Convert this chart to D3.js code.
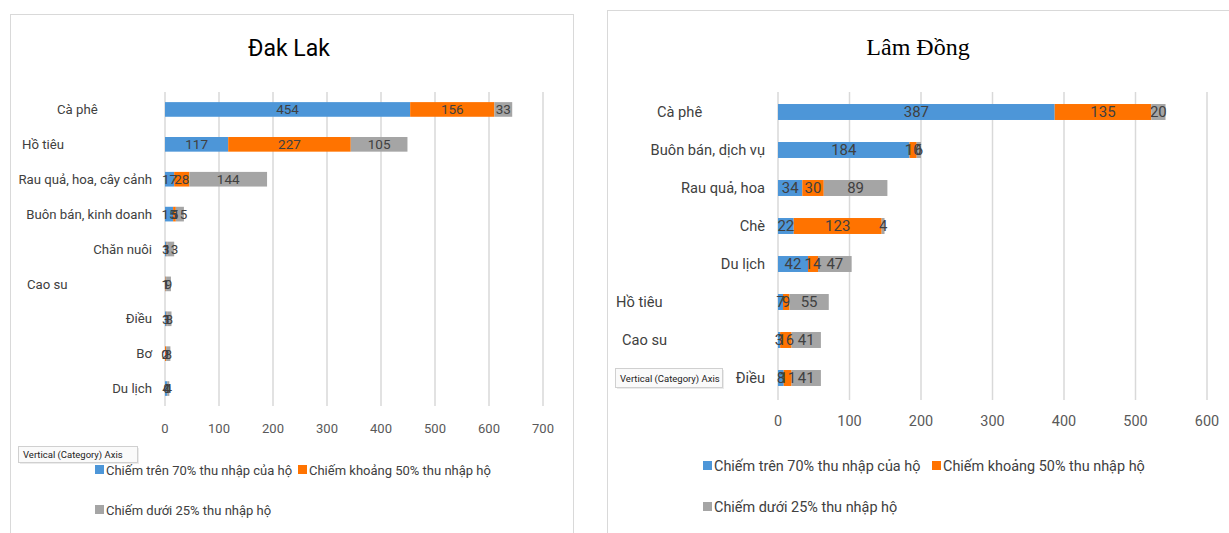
<!DOCTYPE html>
<html>
<head>
<meta charset="utf-8">
<script src="https://cdn.jsdelivr.net/npm/d3@7"></script>
<style>
  body { margin: 0; background: #fff; }
  svg { display: block; font-family: "Roboto", sans-serif; }
</style>
</head>
<body>
<svg id="chart" width="1229" height="533"></svg>
<script>
/* Series names and colours (shared by both charts) */
var seriesNames = ['Chiếm trên 70% thu nhập của hộ', 'Chiếm khoảng 50% thu nhập hộ', 'Chiếm dưới 25% thu nhập hộ']
var seriesColors = ['#4d96d8', '#ff7300', '#a5a5a5']

/* Đak Lak */
var dakLakCategories = ['Cà phê', 'Hồ tiêu', 'Rau quả, hoa, cây cảnh', 'Buôn bán, kinh doanh', 'Chăn nuôi', 'Cao su', 'Điều', 'Bơ', 'Du lịch']
var dakLakOver70 = [454, 117, 17, 15, 3, 1, 3, 0, 4]
var dakLakAbout50 = [156, 227, 28, 5, 1, 1, 1, 2, 0]
var dakLakUnder25 = [33, 105, 144, 15, 13, 9, 8, 8, 4]
var dakLakTicks = [0, 100, 200, 300, 400, 500, 600, 700]

/* Lâm Đồng */
var lamDongCategories = ['Cà phê', 'Buôn bán, dịch vụ', 'Rau quả, hoa', 'Chè', 'Du lịch', 'Hồ tiêu', 'Cao su', 'Điều']
var lamDongOver70 = [387, 184, 34, 22, 42, 7, 3, 8]
var lamDongAbout50 = [135, 10, 30, 123, 14, 9, 16, 11]
var lamDongUnder25 = [20, 6, 89, 4, 47, 55, 41, 41]
var lamDongTicks = [0, 100, 200, 300, 400, 500, 600]

var svg = d3.select('#chart')

/* Panel frames */
svg.append('rect').attr('x', 10.5).attr('y', 14.5).attr('width', 563).attr('height', 530)
	.attr('fill', 'none').attr('stroke', '#d9d9d9')
svg.append('rect').attr('x', 607.5).attr('y', 10.5).attr('width', 640).attr('height', 530)
	.attr('fill', 'none').attr('stroke', '#d9d9d9')

/**
 * Draws one stacked horizontal bar chart with its title, axis and legend
 */
function drawChart(opt) {
	var g = svg.append('g')
	var k = opt.fontScale
	var rows = opt.categories.map(function(name, i) {
		return { name: name, values: [opt.series[0][i], opt.series[1][i], opt.series[2][i]] }
	})

	var x = d3.scaleLinear().domain([0, opt.ticks[opt.ticks.length - 1]]).range(opt.xRange)
	var y = d3.scaleBand().domain(opt.categories).range(opt.yRange).paddingInner(0.58).paddingOuter(0.29)

	/* Title */
	g.append('text').attr('x', opt.titleX).attr('y', opt.titleY)
		.attr('text-anchor', 'middle').style('font-family', opt.titleFont).style('font-size', opt.titleSize + 'px')
		.attr('fill', '#000').text(opt.title)

	/* Vertical gridlines */
	g.selectAll('line.grid').data(opt.ticks).enter().append('line')
		.attr('x1', function(d) { return x(d) }).attr('x2', function(d) { return x(d) })
		.attr('y1', opt.gridTop).attr('y2', opt.gridBottom)
		.attr('stroke', '#d9d9d9').attr('stroke-width', 1.5)

	/* Tick labels */
	g.selectAll('text.tick').data(opt.ticks).enter().append('text')
		.attr('x', function(d) { return x(d) }).attr('y', opt.tickY)
		.attr('text-anchor', 'middle').style('font-size', (13 * k) + 'px').attr('fill', '#595959')
		.text(function(d) { return d })

	/* Category labels; some of them sit further left in the original */
	g.selectAll('text.cat').data(rows).enter().append('text')
		.attr('x', function(d) { return opt.offAligned[d.name] !== undefined ? opt.offAligned[d.name] : x(0) - 13 })
		.attr('y', function(d) { return y(d.name) + y.bandwidth() / 2 })
		.attr('dy', '0.35em')
		.attr('text-anchor', function(d) { return opt.offAligned[d.name] !== undefined ? 'start' : 'end' })
		.style('font-size', (13.2 * k) + 'px').attr('fill', '#404040')
		.text(function(d) { return d.name })

	/* Stacked segments */
	var segs = []
	rows.forEach(function(row) {
		var start = 0
		row.values.forEach(function(v, s) {
			segs.push({ name: row.name, s: s, v: v, x0: start, x1: start + v })
			start += v
		})
	})

	g.selectAll('rect.bar').data(segs).enter().append('rect')
		.attr('x', function(d) { return x(d.x0) })
		.attr('y', function(d) { return y(d.name) })
		.attr('width', function(d) { return x(d.x1) - x(d.x0) })
		.attr('height', y.bandwidth())
		.attr('fill', function(d) { return seriesColors[d.s] })

	g.selectAll('text.val').data(segs).enter().append('text')
		.attr('x', function(d) { return (x(d.x0) + x(d.x1)) / 2 })
		.attr('y', function(d) { return y(d.name) + y.bandwidth() / 2 })
		.attr('dy', '0.36em').attr('text-anchor', 'middle')
		.style('font-size', (13.5 * k) + 'px').attr('fill', '#404040')
		.text(function(d) { return d.v })

	/* Legend */
	var legend = g.selectAll('g.leg').data(seriesNames).enter().append('g')
		.attr('transform', function(d, i) { return 'translate(' + opt.legendPos[i][0] + ',' + opt.legendPos[i][1] + ')' })
	legend.append('rect').attr('x', 0).attr('y', -5).attr('width', 9).attr('height', 9)
		.attr('fill', function(d, i) { return seriesColors[i] })
	legend.append('text').attr('x', 11).attr('y', 0).attr('dy', '0.35em')
		.style('font-size', (13 * k) + 'px').attr('fill', '#404040')
		.text(function(d) { return d })

	/* Excel tooltip captured in the screenshot */
	var tip = g.append('g').attr('transform', 'translate(' + opt.tip[0] + ',' + opt.tip[1] + ')')
	tip.append('rect').attr('x', 2).attr('y', 2).attr('width', opt.tip[2]).attr('height', opt.tip[3])
		.attr('fill', '#000').attr('opacity', 0.08)
	tip.append('rect').attr('x', 0.5).attr('y', 0.5).attr('width', opt.tip[2]).attr('height', opt.tip[3])
		.attr('fill', '#fafafa').attr('stroke', '#d0d0d0')
	tip.append('text').attr('x', 5).attr('y', opt.tip[3] / 2 + 1).attr('dy', '0.35em')
		.style('font-family', 'Roboto, sans-serif').style('font-size', '9.5px').attr('fill', '#222')
		.text('Vertical (Category) Axis')
}

drawChart({
	title: 'Đak Lak', titleX: 289, titleY: 56, titleSize: 23, titleFont: 'Roboto, sans-serif',
	fontScale: 1,
	categories: dakLakCategories,
	series: [dakLakOver70, dakLakAbout50, dakLakUnder25],
	ticks: dakLakTicks,
	xRange: [165, 543], yRange: [92, 406],
	gridTop: 92, gridBottom: 406, tickY: 433,
	offAligned: { 'Cà phê': 57, 'Hồ tiêu': 22, 'Cao su': 27 },
	legendPos: [[95, 470], [298, 470], [95, 510]],
	tip: [18, 446, 119, 16]
})

drawChart({
	title: 'Lâm Đồng', titleX: 918, titleY: 55, titleSize: 24, titleFont: '"Liberation Serif", "DejaVu Serif", serif',
	fontScale: 1.11,
	categories: lamDongCategories,
	series: [lamDongOver70, lamDongAbout50, lamDongUnder25],
	ticks: lamDongTicks,
	xRange: [778, 1207], yRange: [93, 397],
	gridTop: 92, gridBottom: 400, tickY: 426,
	offAligned: { 'Cà phê': 657, 'Hồ tiêu': 616, 'Cao su': 622 },
	legendPos: [[703, 466], [932, 466], [703, 507]],
	tip: [615, 368, 107, 19]
})
</script>
</body>
</html>
